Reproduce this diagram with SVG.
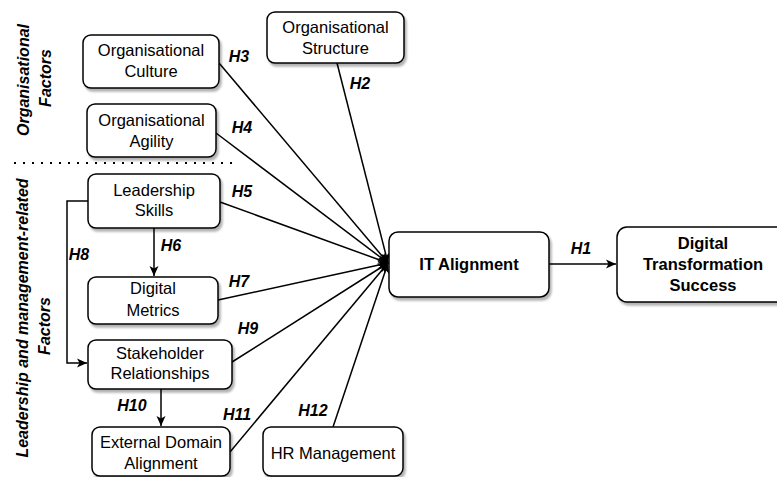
<svg xmlns="http://www.w3.org/2000/svg" width="777" height="477" viewBox="0 0 777 477">
<style>
.box{fill:#fff;stroke:#000;stroke-width:1.5;filter:url(#sh)}
.t{font-family:"Liberation Sans",Arial,sans-serif;font-size:16.5px;fill:#000;text-anchor:middle}
.b{font-weight:bold}
.h{font-family:"Liberation Sans",Arial,sans-serif;font-size:16px;font-weight:bold;font-style:italic;fill:#000;text-anchor:middle}
.c{fill:none;stroke:#000;stroke-width:1.5}
</style>
<defs>
<filter id="sh" x="-10%" y="-10%" width="130%" height="140%">
<feDropShadow dx="2" dy="3" stdDeviation="1" flood-color="#000" flood-opacity="0.3"/>
</filter>
<marker id="ar" markerWidth="11" markerHeight="11" refX="10" refY="5.5" orient="auto" markerUnits="userSpaceOnUse">
<path d="M0,1 L10,5.5 L0,10 L2.5,5.5 Z" fill="#000"/>
</marker>
</defs>
<rect width="777" height="477" fill="#fff"/>

<g id="group-labels">
<text class="h" transform="translate(29,80) rotate(-90)">Organisational</text>
<text class="h" transform="translate(51,78) rotate(-90)">Factors</text>
<text class="h" transform="translate(28,318) rotate(-90)">Leadership and management-related</text>
<text class="h" transform="translate(50,326) rotate(-90)">Factors</text>
<line x1="14" y1="163" x2="234" y2="163" stroke="#000" stroke-width="2" stroke-dasharray="2 7"/>
</g>

<g id="connectors">
<path class="c" d="M219,63 L388,263" marker-end="url(#ar)"/>
<path class="c" d="M337,63 L388,263" marker-end="url(#ar)"/>
<path class="c" d="M216,133 L388,263" marker-end="url(#ar)"/>
<path class="c" d="M220,202 L388,263" marker-end="url(#ar)"/>
<path class="c" d="M218,300 L388,263" marker-end="url(#ar)"/>
<path class="c" d="M232,362 L388,263" marker-end="url(#ar)"/>
<path class="c" d="M230,452 L388,263" marker-end="url(#ar)"/>
<path class="c" d="M333,427 L388,263" marker-end="url(#ar)"/>
<path class="c" d="M549,264 L616,264" marker-end="url(#ar)"/>
<path class="c" d="M154,228 L154,276" marker-end="url(#ar)"/>
<path class="c" d="M161,389 L161,426" marker-end="url(#ar)"/>
<path class="c" d="M88,201 L67,201 L67,363 L87,363" marker-end="url(#ar)"/>
<text class="h" x="239" y="62">H3</text>
<text class="h" x="360" y="89">H2</text>
<text class="h" x="242" y="133">H4</text>
<text class="h" x="242" y="197">H5</text>
<text class="h" x="171" y="251">H6</text>
<text class="h" x="79" y="260">H8</text>
<text class="h" x="239" y="287">H7</text>
<text class="h" x="248" y="334">H9</text>
<text class="h" x="132" y="411">H10</text>
<text class="h" x="237" y="420">H11</text>
<text class="h" x="313" y="416">H12</text>
<text class="h" x="581" y="254">H1</text>
</g>

<g id="org-culture">
<rect class="box" x="83" y="35" width="136" height="53" rx="8"/>
<text class="t" x="151" y="56">Organisational</text>
<text class="t" x="151" y="77">Culture</text>
</g>
<g id="org-agility">
<rect class="box" x="87" y="104" width="129" height="53" rx="8"/>
<text class="t" x="151.5" y="126">Organisational</text>
<text class="t" x="151.5" y="147">Agility</text>
</g>
<g id="org-structure">
<rect class="box" x="267" y="12" width="137" height="51" rx="8"/>
<text class="t" x="335.5" y="33">Organisational</text>
<text class="t" x="335.5" y="54">Structure</text>
</g>
<g id="leadership-skills">
<rect class="box" x="88" y="174" width="132" height="54" rx="8"/>
<text class="t" x="154" y="196">Leadership</text>
<text class="t" x="154" y="216">Skills</text>
</g>
<g id="digital-metrics">
<rect class="box" x="88" y="277" width="130" height="47" rx="8"/>
<text class="t" x="153" y="294">Digital</text>
<text class="t" x="153" y="316">Metrics</text>
</g>
<g id="stakeholder-relationships">
<rect class="box" x="88" y="340" width="144" height="49" rx="8"/>
<text class="t" x="160" y="359">Stakeholder</text>
<text class="t" x="160" y="379">Relationships</text>
</g>
<g id="external-domain-alignment">
<rect class="box" x="92" y="427" width="138" height="49" rx="8"/>
<text class="t" x="161" y="448">External Domain</text>
<text class="t" x="161" y="469">Alignment</text>
</g>
<g id="hr-management">
<rect class="box" x="263" y="427" width="140" height="49" rx="8"/>
<text class="t" x="333" y="459">HR Management</text>
</g>
<g id="it-alignment">
<rect class="box" x="389" y="232" width="160" height="65" rx="9"/>
<text class="t b" x="469" y="270">IT Alignment</text>
</g>
<g id="digital-transformation-success">
<rect class="box" x="617" y="227" width="172" height="75" rx="10"/>
<text class="t b" x="703" y="249">Digital</text>
<text class="t b" x="703" y="270">Transformation</text>
<text class="t b" x="703" y="291">Success</text>
</g>
</svg>
